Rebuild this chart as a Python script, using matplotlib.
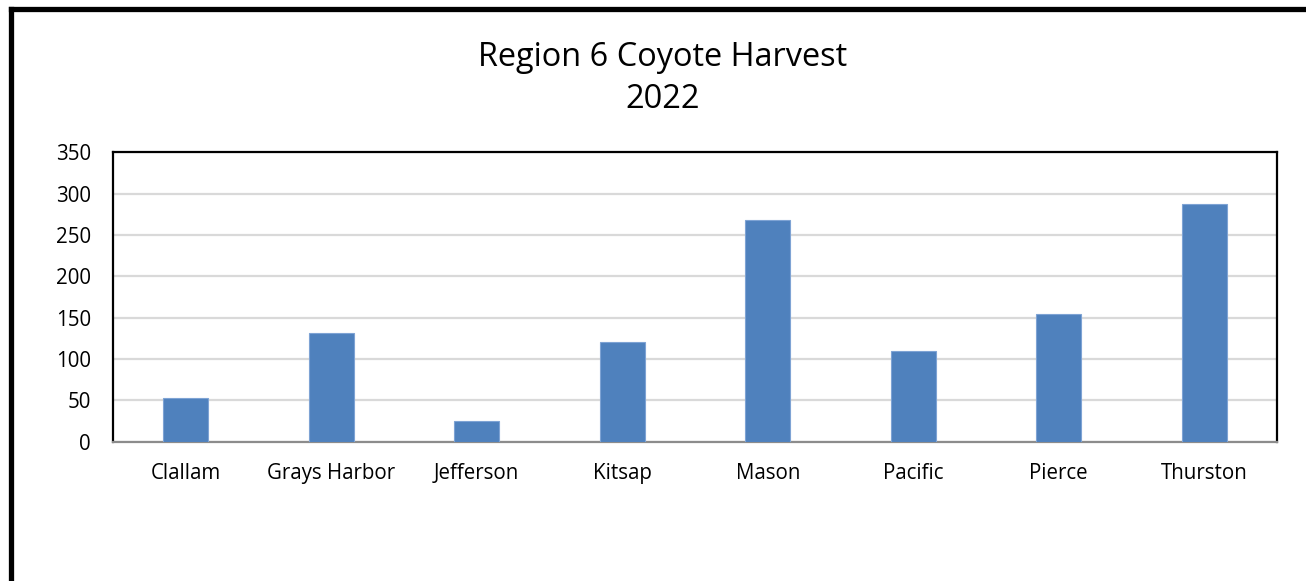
import matplotlib.pyplot as plt
from matplotlib.lines import Line2D

# -----------------------------
# Data
# -----------------------------
counties = ["Clallam", "Grays Harbor", "Jefferson", "Kitsap",
            "Mason", "Pacific", "Pierce", "Thurston"]
harvest = [53, 132, 25, 120, 268, 110, 155, 288]
y_ticks = [0, 50, 100, 150, 200, 250, 300, 350]

# -----------------------------
# Figure
# -----------------------------
plt.rcParams["font.family"] = ["Open Sans", "DejaVu Sans"]
fig = plt.figure(figsize=(13.06, 5.81), dpi=100)
W, H = 1306, 581

# outer frame (left and top edges visible, rest cropped)
fig.add_artist(Line2D([11 / W, 11 / W], [0, 1 - 9 / H], color="black",
                      linewidth=3.8, transform=fig.transFigure))
fig.add_artist(Line2D([11 / W, 1], [1 - 9 / H, 1 - 9 / H], color="black",
                      linewidth=3.8, transform=fig.transFigure))

ax = fig.add_axes([113 / W, 1 - 441.7 / H, (1277 - 113) / W, (441.7 - 152.3) / H])

x = range(len(counties))
ax.bar(x, harvest, width=0.31, color="#4f81bd", edgecolor="#7ea3d4",
       linewidth=0.8, zorder=3)

ax.set_xlim(-0.5, len(counties) - 0.5)
ax.set_ylim(0, 350)
ax.set_yticks(y_ticks)
ax.set_xticks(list(x))
ax.set_xticklabels(counties)
ax.tick_params(axis="both", length=0, labelsize=14.8, colors="black")
ax.tick_params(axis="x", pad=15)
ax.tick_params(axis="y", pad=16)

ax.grid(axis="y", color="#d9d9d9", linewidth=1.6, zorder=0)
ax.set_axisbelow(True)

for side in ["top", "left", "right"]:
    ax.spines[side].set_color("black")
    ax.spines[side].set_linewidth(1.6)
ax.spines["bottom"].set_color("#8c8c8c")
ax.spines["bottom"].set_linewidth(1.6)

# -----------------------------
# Title
# -----------------------------
fig.text(663 / W, 1 - 57 / H, "Region 6 Coyote Harvest", ha="center",
         va="center", fontsize=23.4)
fig.text(663 / W, 1 - 100 / H, "2022", ha="center", va="center", fontsize=23.4)

fig.savefig("out.png", dpi=100)
